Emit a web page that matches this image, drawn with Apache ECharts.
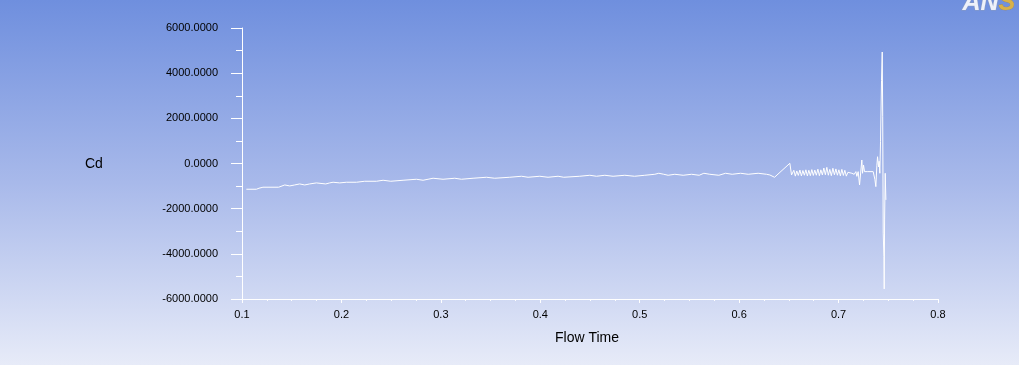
<!DOCTYPE html>
<html>
<head>
<meta charset="utf-8">
<script src="https://cdn.jsdelivr.net/npm/echarts@6/dist/echarts.min.js"></script>
<style>
html,body{margin:0;padding:0;}
#chart{width:1019px;height:365px;}
</style>
</head>
<body>
<div id="chart"></div>
<script>
// Flow time samples
const flowTime = [
  0.1044,0.1145,0.1171,0.1211,0.1369,0.1386,0.1430,0.1480,0.1530,0.1580,0.1631,0.1681,0.1748,0.1842,0.1882,0.1916,0.1983,0.2050,0.2151,0.2234,0.2352,0.2419,0.2496,0.2620,0.2754,0.2821,0.2871,
  0.2922,0.3022,0.3140,0.3207,0.3324,0.3459,0.3542,0.3693,0.3811,0.3877,0.3995,0.4078,0.4179,0.4236,0.4397,0.4498,0.4565,0.4649,0.4732,0.4850,0.4948,
  0.5051,0.5152,0.5192,0.5242,0.5286,0.5353,0.5437,0.5521,0.5598,0.5645,0.5705,0.5796,0.5863,0.5930,0.6014,0.6091,0.6191,0.6276,
  0.6309,0.6356,0.6510,0.6527,
  0.6550,0.6565,0.6580,0.6595,0.6611,0.6626,0.6641,0.6656,0.6671,0.6686,0.6701,0.6716,0.6731,0.6746,0.6761,0.6776,0.6792,0.6807,0.6822,0.6837,
  0.6852,0.6867,0.6882,0.6897,0.6912,0.6927,0.6943,0.6958,0.6973,0.6988,0.7003,0.7018,0.7033,0.7048,0.7063,0.7078,0.7094,0.7109,
  0.7134,0.7157,0.7174,0.7184,0.7197,0.7211,0.7234,0.7241,0.7251,0.7261,0.7275,0.7288,0.7348,0.7365,0.7375,0.7385,0.7392,0.7402,0.7408,0.7415,
  0.7422,0.7432,0.7439,0.7444,0.7449,0.7456,0.7459,0.7463,0.7469,0.7476
];
// Drag coefficient values
const cd = [
  -1140,-1140,-1095,-1050,-1050,-993,-950,-993,-950,-905,-950,-905,-860,-905,-860,-830,-860,-830,-830,-786,-786,-742,-786,-742,-698,-742,-698,
  -653,-698,-653,-698,-653,-609,-653,-609,-565,-609,-565,-609,-565,-609,-565,-521,-565,-521,-565,-521,-565,
  -521,-477,-433,-477,-521,-477,-521,-477,-521,-433,-477,-521,-433,-477,-433,-477,-433,-477,
  -508,-609,9,-508,
  -300,-560,-330,-530,-290,-550,-310,-520,-280,-550,-300,-540,-270,-530,-290,-520,-250,-540,-280,-510,
  -200,-500,-170,-520,-260,-540,-210,-500,-240,-520,-280,-550,-260,-530,-300,-560,-390,-470,
  -433,-480,-360,-570,-360,-950,155,-433,-66,-360,-290,-360,-360,-700,-1024,-100,300,-150,100,-433,
  962,3686,4936,2066,-3083,-4115,-5555,-2500,-433,-1611
];
const xTicks = [0.1,0.2,0.3,0.4,0.5,0.6,0.7,0.8];
const yTicks = [-6000,-4000,-2000,0,2000,4000,6000];
const xTitle = 'Flow Time';
const yTitle = 'Cd';

const chart = echarts.init(document.getElementById('chart'), null, {renderer:'canvas'});
const font = '"Liberation Sans", Arial, sans-serif';
chart.setOption({
  animation:false,
  graphic:[
    {type:'rect', z:-10, silent:true, shape:{x:0,y:0,width:1019,height:365},
     style:{fill:new echarts.graphic.LinearGradient(0,0,0,1,[
       {offset:0,color:'#6f8fde'},
       {offset:0.5,color:'#a8b9ea'},
       {offset:1,color:'#e7ebf8'}])}},
    {type:'text', left:85, top:157, style:{text:yTitle, font:'14px '+font, fill:'#000'}},
    {type:'text', left:555, top:331, style:{text:xTitle, font:'14px '+font, fill:'#000'}},
    {type:'text', left:962, top:-10, z:10, style:{
      text:'{a|AN}{b|SYS}', font:'italic bold 25px '+font,
      rich:{a:{fill:'#eef1fa', stroke:'#8a9ac0', lineWidth:1, font:'italic bold 25px '+font},
            b:{fill:'#d9b24a', stroke:'#b08a30', lineWidth:0.5, font:'italic bold 25px '+font}}}}
  ],
  grid:{left:242, right:81, top:28, bottom:66},
  xAxis:{
    type:'value', min:0.1, max:0.8, interval:0.1,
    axisLine:{show:true, onZero:false, lineStyle:{color:'#fff', width:1}},
    axisTick:{show:true, inside:false, length:4, lineStyle:{color:'#fff'}},
    minorTick:{show:true, splitNumber:4, length:2, lineStyle:{color:'#fff'}},
    splitLine:{show:false},
    axisLabel:{margin:10, color:'#000', fontSize:11, fontFamily:font,
      formatter:v=>{const t=xTicks.find(x=>Math.abs(x-v)<1e-6);return (t!==undefined?t:v).toFixed(1);}}
  },
  yAxis:{
    type:'value', min:-6000, max:6000, interval:2000,
    axisLine:{show:true, onZero:false, lineStyle:{color:'#fff', width:1}},
    axisTick:{show:true, inside:false, length:11, lineStyle:{color:'#fff'}},
    minorTick:{show:true, splitNumber:2, length:6, lineStyle:{color:'#fff'}},
    splitLine:{show:false},
    axisLabel:{margin:24, color:'#000', fontSize:11, fontFamily:font,
      formatter:v=>{const t=yTicks.find(y=>Math.abs(y-v)<1e-6);return (t!==undefined?t:v).toFixed(4);}}
  },
  series:[{
    type:'line', showSymbol:false, symbol:'none',
    lineStyle:{color:'#ffffff', width:1},
    data:flowTime.map((t,i)=>[t,cd[i]])
  }]
});
</script>
</body>
</html>
